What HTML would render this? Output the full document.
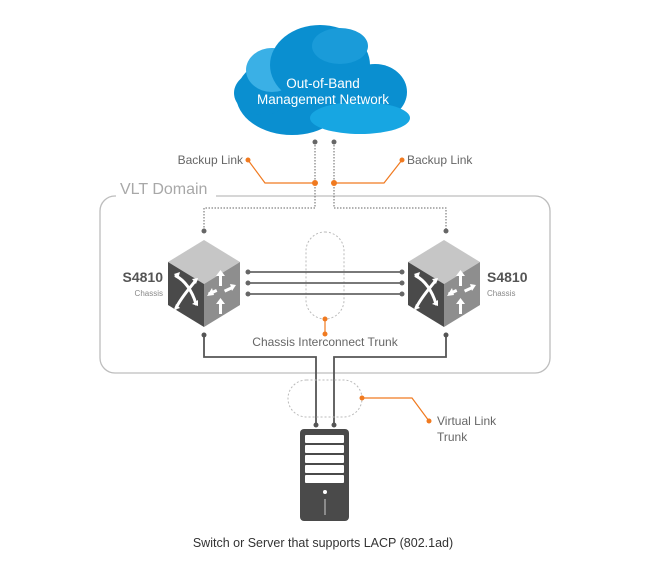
<!DOCTYPE html>
<html><head><meta charset="utf-8"><style>
html,body{margin:0;padding:0;background:#fff;}
svg{display:block;}
text{font-family:"Liberation Sans",sans-serif;}
</style></head><body>
<svg width="649" height="588" viewBox="0 0 649 588" xmlns="http://www.w3.org/2000/svg">
<defs>
<g id="cube">
<polygon points="0,-42 36,-20 0,2 -36,-20" fill="#c6c6c6"/>
<polygon points="-36,-20 0,2 0,45 -36,23" fill="#4a4a4a"/>
<polygon points="36,-20 0,2 0,45 36,23" fill="#8e8e8e"/>
<g stroke="#fff" stroke-width="3" fill="none" stroke-linecap="round">
<path d="M-28,-6 C-20,-2 -12,8 -8,22"/>
<path d="M-8,-2 C-14,6 -22,14 -28,26"/>
</g>
<g fill="#fff">
<polygon points="-30,-8 -24,-10 -26,-3"/>
<polygon points="-6,24 -12,22 -6,18"/>
<polygon points="-6,-4 -12,-3 -8,2"/>
<polygon points="-30,28 -24,26 -28,22"/>
<rect x="15" y="-8" width="3" height="12"/>
<polygon points="16.5,-12 12,-6 21,-6"/>
<rect x="15" y="20" width="3" height="12"/>
<polygon points="16.5,16 12,22 21,22"/>
<rect x="4" y="9" width="9" height="3" transform="rotate(-25 8 10)"/>
<polygon points="3,14 8,6 10,13"/>
<rect x="20" y="6" width="9" height="3" transform="rotate(-25 24 7)"/>
<polygon points="32,3 26,2 28,9"/>
</g>
</g>
</defs>

<!-- cloud -->
<g>
<ellipse cx="292" cy="95" rx="56" ry="40" fill="#0a8fd0"/>
<ellipse cx="262" cy="93" rx="28" ry="22" fill="#0a8fd0"/>
<ellipse cx="272" cy="70" rx="26" ry="22" fill="#3ab0e6"/>
<ellipse cx="320" cy="65" rx="50" ry="40" fill="#0a8fd0"/>
<ellipse cx="375" cy="92" rx="32" ry="28" fill="#0a8fd0"/>
<ellipse cx="360" cy="118" rx="50" ry="16" fill="#17a6e2"/>
<ellipse cx="340" cy="46" rx="28" ry="18" fill="#1a9bd9"/>
<text x="323" y="88" text-anchor="middle" font-size="13.5" fill="#fff">Out-of-Band</text>
<text x="323" y="104" text-anchor="middle" font-size="13.5" fill="#fff">Management Network</text>
</g>

<!-- VLT domain -->
<rect x="100" y="196" width="450" height="177" rx="15" fill="none" stroke="#bdbdbd" stroke-width="1.3"/>
<rect x="116" y="180" width="100" height="18" fill="#fff"/>
<text x="120" y="194" font-size="16" fill="#a8a8a8">VLT Domain</text>

<!-- dotted management links -->
<g fill="none" stroke="#666" stroke-width="1" stroke-dasharray="1.5,1.5">
<path d="M315,142 V208 H204 V231"/>
<path d="M334,142 V208 H446 V231"/>
</g>
<g fill="#666"><circle cx="315" cy="142" r="2.5"/><circle cx="334" cy="142" r="2.5"/><circle cx="204" cy="231" r="2.5"/><circle cx="446" cy="231" r="2.5"/></g>

<!-- backup labels -->
<g fill="none" stroke="#f07a20" stroke-width="1.2">
<path d="M248,160 L265,183 H315"/>
<path d="M402,160 L384,183 H334"/>
</g>
<g fill="#f07a20"><circle cx="248" cy="160" r="2.5"/><circle cx="315" cy="183" r="3"/><circle cx="402" cy="160" r="2.5"/><circle cx="334" cy="183" r="3"/></g>
<text x="243" y="164" text-anchor="end" font-size="12" fill="#666">Backup Link</text>
<text x="407" y="164" font-size="12" fill="#666">Backup Link</text>

<!-- cubes -->
<use href="#cube" x="204" y="282"/>
<use href="#cube" x="444" y="282"/>
<text x="163" y="282" text-anchor="end" font-size="14" font-weight="bold" fill="#555">S4810</text>
<text x="163" y="296" text-anchor="end" font-size="8" fill="#888">Chassis</text>
<text x="487" y="282" font-size="14" font-weight="bold" fill="#555">S4810</text>
<text x="487" y="296" font-size="8" fill="#888">Chassis</text>

<!-- trunk -->
<rect x="306" y="232" width="38" height="87" rx="19" fill="none" stroke="#bbb" stroke-dasharray="2,2"/>
<g stroke="#666" stroke-width="1.8"><line x1="248" y1="272" x2="402" y2="272"/><line x1="248" y1="283" x2="402" y2="283"/><line x1="248" y1="294" x2="402" y2="294"/></g>
<g fill="#666"><circle cx="248" cy="272" r="2.5"/><circle cx="248" cy="283" r="2.5"/><circle cx="248" cy="294" r="2.5"/><circle cx="402" cy="272" r="2.5"/><circle cx="402" cy="283" r="2.5"/><circle cx="402" cy="294" r="2.5"/></g>
<line x1="325" y1="319" x2="325" y2="334" stroke="#f07a20" stroke-width="1.2"/>
<circle cx="325" cy="319" r="2.5" fill="#f07a20"/><circle cx="325" cy="334" r="2.5" fill="#f07a20"/>
<text x="325" y="346" text-anchor="middle" font-size="12" fill="#666">Chassis Interconnect Trunk</text>

<!-- downlinks -->
<g fill="none" stroke="#555" stroke-width="1.8">
<path d="M204,335 V357 H316 V425"/>
<path d="M446,335 V357 H334 V425"/>
</g>
<g fill="#555"><circle cx="204" cy="335" r="2.5"/><circle cx="446" cy="335" r="2.5"/><circle cx="316" cy="425" r="2.5"/><circle cx="334" cy="425" r="2.5"/></g>

<!-- VLT trunk -->
<rect x="288" y="380" width="74" height="37" rx="18.5" fill="none" stroke="#bbb" stroke-dasharray="2,2"/>
<path d="M362,398 H412 L429,421" fill="none" stroke="#f07a20" stroke-width="1.2"/>
<circle cx="362" cy="398" r="2.5" fill="#f07a20"/><circle cx="429" cy="421" r="2.5" fill="#f07a20"/>
<text x="437" y="425" font-size="12" fill="#666">Virtual Link</text>
<text x="437" y="441" font-size="12" fill="#666">Trunk</text>

<!-- server -->
<rect x="300" y="429" width="49" height="92" rx="4" fill="#4a4a4a"/>
<g fill="#fff"><rect x="305" y="435" width="39" height="8" rx="1"/><rect x="305" y="445" width="39" height="8" rx="1"/><rect x="305" y="455" width="39" height="8" rx="1"/><rect x="305" y="465" width="39" height="8" rx="1"/><rect x="305" y="475" width="39" height="8" rx="1"/>
<circle cx="325" cy="492" r="2"/></g>
<line x1="325" y1="499" x2="325" y2="515" stroke="#ccc" stroke-width="1"/>

<text x="323" y="547" text-anchor="middle" font-size="12.5" fill="#333">Switch or Server that supports LACP (802.1ad)</text>
</svg>
</body></html>
